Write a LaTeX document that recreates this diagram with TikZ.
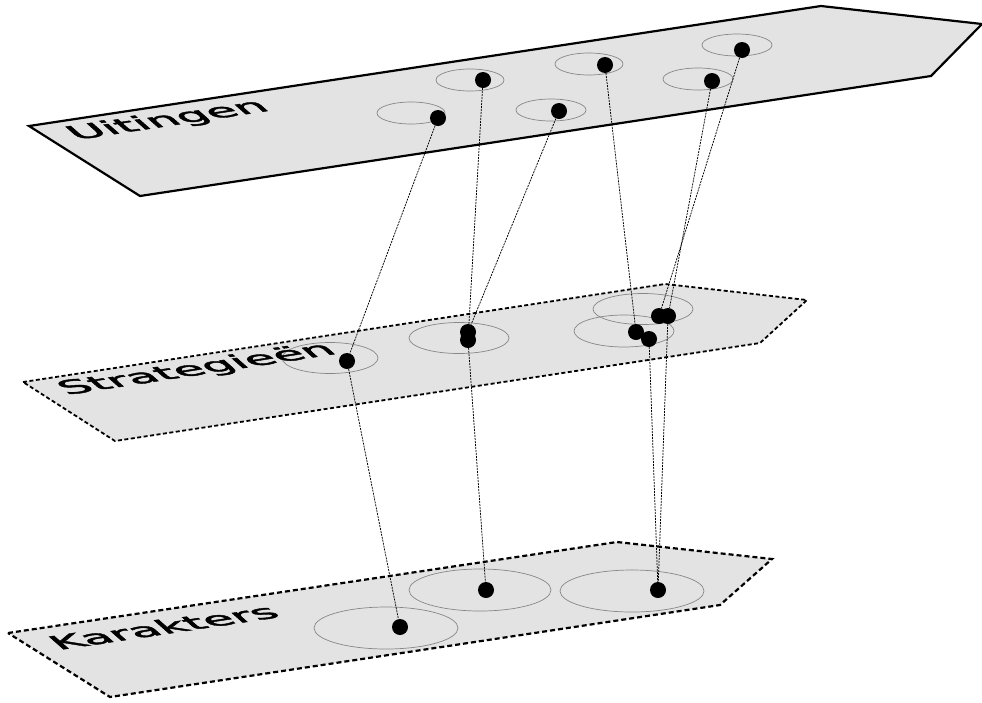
\documentclass[tikz,border=0pt]{standalone}
\usepackage{fontspec}
\setmainfont{DejaVu Sans}
\newfontfamily\planefont[FakeBold=2]{DejaVu Sans}
\usetikzlibrary{shapes.geometric}
\definecolor{planefill}{RGB}{227,227,227}
\definecolor{ringgray}{RGB}{135,135,135}
\begin{document}
\begin{tikzpicture}[x=1pt,y=-1pt,
 solidplane/.style={draw=black, line width=2.2pt, fill=planefill, line join=miter},
 midplane/.style={draw=black, line width=1.8pt, fill=planefill, dash pattern=on 4pt off 2.5pt},
 lowplane/.style={draw=black, line width=2.2pt, fill=planefill, dash pattern=on 5pt off 3pt},
 ring/.style={ellipse, draw=ringgray, line width=0.7pt, inner sep=0pt},
 blob/.style={circle, fill=black, inner sep=0pt, minimum size=16pt},
 link/.style={draw=black, line width=0.75pt, dash pattern=on 2pt off 1pt},
 planelabel/.style={transform shape, anchor=base west, inner sep=0pt, font=\planefont\fontsize{47}{47}\selectfont}
]
\useasboundingbox (0,0) rectangle (982,702);

% planes
\draw[lowplane] (8,633) -- (617,542) -- (772,559) -- (720,605) -- (110,697) -- cycle;
\draw[midplane] (23,382) -- (665,284) -- (807,300) -- (760,343) -- (115,441) -- cycle;
\draw[solidplane] (29,126) -- (821,6) -- (982,24) -- (931,76) -- (140,196) -- cycle;

% rings top
\node[ring, minimum width=68pt, minimum height=22pt] (t1) at (411,113) {};
\node[ring, minimum width=68pt, minimum height=22pt] (t2) at (470,80) {};
\node[ring, minimum width=70pt, minimum height=22pt] (t3) at (551,110) {};
\node[ring, minimum width=68pt, minimum height=22pt] (t4) at (589,64) {};
\node[ring, minimum width=70pt, minimum height=22pt] (t5) at (698,79) {};
\node[ring, minimum width=70pt, minimum height=22pt] (t6) at (737,45) {};
% rings middle
\node[ring, minimum width=96pt, minimum height=31pt] (m1) at (330,358) {};
\node[ring, minimum width=100pt, minimum height=31pt] (m2) at (459,338) {};
\node[ring, minimum width=100pt, minimum height=32pt] (m3) at (624,331) {};
\node[ring, minimum width=100pt, minimum height=31pt] (m4) at (643,309) {};
% rings bottom
\node[ring, minimum width=144pt, minimum height=42pt] (b1) at (386,628) {};
\node[ring, minimum width=142pt, minimum height=42pt] (b2) at (480,590) {};
\node[ring, minimum width=144pt, minimum height=42pt] (b3) at (632,591) {};

% labels
\begin{scope}[cm={0.9888,0.1498,-0.42,0.37,(76,140)}]
\node[planelabel] (luit) at (0,0) {Uitingen};
\end{scope}
\begin{scope}[cm={0.9886,0.1509,-0.42,0.37,(67,395)}]
\node[planelabel] (lstr) at (0,0) {Strategieën};
\end{scope}
\begin{scope}[cm={0.989,0.1478,-0.42,0.37,(59,650)}]
\node[planelabel] (lkar) at (0,0) {Karakters};
\end{scope}

% dots
\node[blob] (u1) at (438,118) {};
\node[blob] (u2) at (483,80) {};
\node[blob] (u3) at (559,111) {};
\node[blob] (u4) at (605,65) {};
\node[blob] (u5) at (712,81) {};
\node[blob] (u6) at (742,50) {};

\node[blob] (s1) at (347,361) {};
\node[blob] (s2) at (468,332) {};
\node[blob] (s3) at (468,340) {};
\node[blob] (s4) at (636,332) {};
\node[blob] (s5) at (649,339) {};
\node[blob] (s6) at (659,316) {};
\node[blob] (s7) at (668,316) {};

\node[blob] (k1) at (400,627) {};
\node[blob] (k2) at (486,590) {};
\node[blob] (k3) at (658,590) {};

% connectors
\draw[link] (u1) -- (s1);
\draw[link] (u2) -- (s3);
\draw[link] (u3) -- (s2);
\draw[link] (u4) -- (s4);
\draw[link] (u5) -- (s7);
\draw[link] (u6) -- (s6);
\draw[link] (s1) -- (k1);
\draw[link] (s3) -- (k2);
\draw[link] (s5) -- (k3);
\draw[link] (s7) -- (k3);
\end{tikzpicture}
\end{document}
